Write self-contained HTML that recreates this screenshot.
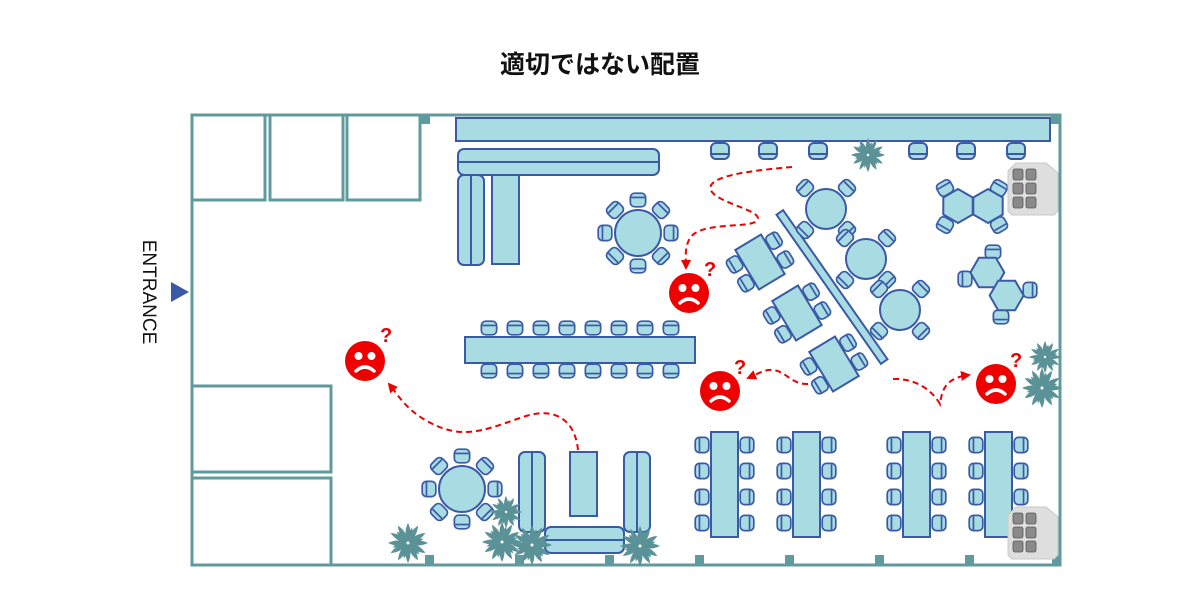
<!DOCTYPE html>
<html><head><meta charset="utf-8"><style>
html,body{margin:0;padding:0;background:#fff;}
svg{display:block;}
</style></head><body>
<svg width="1200" height="615" viewBox="0 0 1200 615" xmlns="http://www.w3.org/2000/svg">
<defs>
<g id="ch"><rect x="-9" y="-8" width="18" height="16" rx="5" fill="#a9dbe3" stroke="#3a5aa6" stroke-width="2"/><line x1="-8" y1="3" x2="8" y2="3" stroke="#3a5aa6" stroke-width="2"/></g>
<g id="cs"><use href="#ch" transform="scale(0.85)"/></g>
<polygon id="hex" points="0,-17 14.7,-8.5 14.7,8.5 0,17 -14.7,8.5 -14.7,-8.5" fill="#a9dbe3" stroke="#3a5aa6" stroke-width="2"/>
<path id="leaf" d="M0,0 Q5,-10 0,-20 Q-5,-10 0,0 Z" fill="#5a9297"/>
<g id="plant"><use href="#leaf"/><use href="#leaf" transform="rotate(30)"/><use href="#leaf" transform="rotate(60)"/><use href="#leaf" transform="rotate(90)"/><use href="#leaf" transform="rotate(120)"/><use href="#leaf" transform="rotate(150)"/><use href="#leaf" transform="rotate(180)"/><use href="#leaf" transform="rotate(210)"/><use href="#leaf" transform="rotate(240)"/><use href="#leaf" transform="rotate(270)"/><use href="#leaf" transform="rotate(300)"/><use href="#leaf" transform="rotate(330)"/><g transform="rotate(15) scale(0.8)"><use href="#leaf"/><use href="#leaf" transform="rotate(60)"/><use href="#leaf" transform="rotate(120)"/><use href="#leaf" transform="rotate(180)"/><use href="#leaf" transform="rotate(240)"/><use href="#leaf" transform="rotate(300)"/></g><circle r="1.5" fill="#fff"/></g>
<g id="face"><circle r="20" fill="#ee0000"/><circle cx="-6.5" cy="-5" r="4" fill="#fff"/><circle cx="6.5" cy="-5" r="4" fill="#fff"/><path d="M-9,10 Q0,2 9,10" fill="none" stroke="#fff" stroke-width="3.5" stroke-linecap="round"/></g>
<g id="locker"><path d="M0,8 L8,0 L38,0 L50,10 L50,48 L46,52 L4,52 L0,48 Z" fill="#dedede" stroke="#c8c8c8"/><g fill="#8a8a8a" stroke="#555" stroke-width="0.8"><rect x="5" y="6" width="10" height="11" rx="2"/><rect x="18" y="6" width="10" height="11" rx="2"/><rect x="5" y="20" width="10" height="11" rx="2"/><rect x="18" y="20" width="10" height="11" rx="2"/><rect x="5" y="34" width="10" height="11" rx="2"/><rect x="18" y="34" width="10" height="11" rx="2"/></g></g>
<marker id="ar" viewBox="0 0 10 10" refX="8" refY="5" markerWidth="5" markerHeight="5" orient="auto"><path d="M0,0 L10,5 L0,10 Z" fill="#ee0000"/></marker>
</defs>

<text x="600" y="73" text-anchor="middle" font-family="'Liberation Sans','Noto Sans CJK JP',sans-serif" font-size="25" font-weight="bold" fill="#111">適切ではない配置</text>

<g fill="none" stroke="#5f9a9e" stroke-width="3">
<polyline points="192,115 1060,115 1060,565 192,565 192,115"/>
<rect x="192" y="115" width="73" height="85"/>
<rect x="270" y="115" width="73" height="85"/>
<rect x="347" y="115" width="73" height="85"/>
<rect x="192" y="386" width="139" height="86"/>
<rect x="192" y="478" width="139" height="87"/>
</g>
<g fill="#5f9a9e">
<rect x="421" y="115" width="9" height="9"/><rect x="1051" y="115" width="9" height="9"/>
<rect x="425" y="555" width="9" height="9"/><rect x="515" y="555" width="9" height="9"/><rect x="605" y="555" width="9" height="9"/><rect x="695" y="555" width="9" height="9"/><rect x="785" y="555" width="9" height="9"/><rect x="875" y="555" width="9" height="9"/><rect x="965" y="555" width="9" height="9"/><rect x="1052" y="555" width="9" height="9"/>
</g>

<polygon points="171,282 171,302 189,292" fill="#3a5aa6"/>
<text transform="translate(143,292) rotate(90)" text-anchor="middle" font-family="'Liberation Sans',sans-serif" font-size="19" fill="#111">ENTRANCE</text>

<g fill="#a9dbe3" stroke="#3a5aa6" stroke-width="2">
<rect x="456" y="118" width="594" height="23"/>
<rect x="458" y="149" width="201" height="26" rx="6"/><line x1="458" y1="162" x2="659" y2="162"/>
<rect x="458" y="175" width="26" height="90" rx="6"/><line x1="471" y1="176" x2="471" y2="264"/>
<rect x="492" y="175" width="27" height="89"/>
<circle cx="638" cy="233" r="23"/>
<rect x="465" y="337" width="230" height="26"/>
<circle cx="462" cy="489" r="23"/>
<rect x="519" y="452" width="26" height="80" rx="6"/><line x1="532" y1="453" x2="532" y2="531"/>
<rect x="624" y="452" width="26" height="80" rx="6"/><line x1="637" y1="453" x2="637" y2="531"/>
<rect x="545" y="527" width="79" height="26" rx="6"/><line x1="546" y1="540" x2="623" y2="540"/>
<rect x="570" y="452" width="27" height="64"/>
<rect x="711" y="432" width="27" height="105"/>
<rect x="793" y="432" width="27" height="105"/>
<rect x="903" y="432" width="27" height="105"/>
<rect x="985" y="432" width="27" height="105"/>
<circle cx="826" cy="209" r="20"/>
<circle cx="866" cy="259" r="20"/>
<circle cx="900" cy="310" r="20"/>
<rect x="-91" y="-4" width="182" height="8" transform="translate(832,287) rotate(55)"/>
</g>

<use href="#ch" x="720" y="151"/><use href="#ch" x="768" y="151"/><use href="#ch" x="818" y="151"/><use href="#ch" x="918" y="151"/><use href="#ch" x="966" y="151"/><use href="#ch" x="1016" y="151"/>
<g transform="translate(868,155) scale(0.85)"><use href="#plant"/></g>

<use href="#cs" transform="translate(671,233) rotate(-90)"/><use href="#cs" transform="translate(661,256) rotate(-45)"/><use href="#cs" transform="translate(638,266)"/><use href="#cs" transform="translate(615,256) rotate(45)"/><use href="#cs" transform="translate(605,233) rotate(90)"/><use href="#cs" transform="translate(615,210) rotate(135)"/><use href="#cs" transform="translate(638,200) rotate(180)"/><use href="#cs" transform="translate(661,210) rotate(225)"/>
<use href="#cs" transform="translate(495,489) rotate(-90)"/><use href="#cs" transform="translate(485,512) rotate(-45)"/><use href="#cs" transform="translate(462,522)"/><use href="#cs" transform="translate(439,512) rotate(45)"/><use href="#cs" transform="translate(429,489) rotate(90)"/><use href="#cs" transform="translate(439,466) rotate(135)"/><use href="#cs" transform="translate(462,456) rotate(180)"/><use href="#cs" transform="translate(485,466) rotate(225)"/>

<g>
<use href="#cs" transform="translate(489,328) rotate(180)"/><use href="#cs" transform="translate(515,328) rotate(180)"/><use href="#cs" transform="translate(541,328) rotate(180)"/><use href="#cs" transform="translate(567,328) rotate(180)"/><use href="#cs" transform="translate(593,328) rotate(180)"/><use href="#cs" transform="translate(619,328) rotate(180)"/><use href="#cs" transform="translate(645,328) rotate(180)"/><use href="#cs" transform="translate(671,328) rotate(180)"/>
<use href="#cs" x="489" y="371"/><use href="#cs" x="515" y="371"/><use href="#cs" x="541" y="371"/><use href="#cs" x="567" y="371"/><use href="#cs" x="593" y="371"/><use href="#cs" x="619" y="371"/><use href="#cs" x="645" y="371"/><use href="#cs" x="671" y="371"/>
</g>

<g>
<use href="#cs" transform="translate(847,230) rotate(-45)"/><use href="#cs" transform="translate(805,230) rotate(45)"/><use href="#cs" transform="translate(805,188) rotate(135)"/><use href="#cs" transform="translate(847,188) rotate(225)"/>
<use href="#cs" transform="translate(887,280) rotate(-45)"/><use href="#cs" transform="translate(845,280) rotate(45)"/><use href="#cs" transform="translate(845,238) rotate(135)"/><use href="#cs" transform="translate(887,238) rotate(225)"/>
<use href="#cs" transform="translate(921,331) rotate(-45)"/><use href="#cs" transform="translate(879,331) rotate(45)"/><use href="#cs" transform="translate(879,289) rotate(135)"/><use href="#cs" transform="translate(921,289) rotate(225)"/>
</g>

<g transform="translate(760,262) rotate(59)"><rect x="-23" y="-15" width="46" height="30" fill="#a9dbe3" stroke="#3a5aa6" stroke-width="2"/><use href="#cs" transform="translate(-11,-23) rotate(180)"/><use href="#cs" transform="translate(11,-23) rotate(180)"/><use href="#cs" transform="translate(-11,23)"/><use href="#cs" transform="translate(11,23)"/></g>
<g transform="translate(797,313) rotate(59)"><rect x="-23" y="-15" width="46" height="30" fill="#a9dbe3" stroke="#3a5aa6" stroke-width="2"/><use href="#cs" transform="translate(-11,-23) rotate(180)"/><use href="#cs" transform="translate(11,-23) rotate(180)"/><use href="#cs" transform="translate(-11,23)"/><use href="#cs" transform="translate(11,23)"/></g>
<g transform="translate(834,364) rotate(59)"><rect x="-23" y="-15" width="46" height="30" fill="#a9dbe3" stroke="#3a5aa6" stroke-width="2"/><use href="#cs" transform="translate(-11,-23) rotate(180)"/><use href="#cs" transform="translate(11,-23) rotate(180)"/><use href="#cs" transform="translate(-11,23)"/><use href="#cs" transform="translate(11,23)"/></g>

<use href="#cs" transform="translate(945,188) rotate(150)"/><use href="#cs" transform="translate(999,188) rotate(210)"/><use href="#cs" transform="translate(945,225) rotate(30)"/><use href="#cs" transform="translate(999,225) rotate(-30)"/>
<use href="#hex" x="958" y="206"/><use href="#hex" x="988" y="206"/>
<use href="#cs" transform="translate(993,252) rotate(180)"/><use href="#cs" transform="translate(965,279) rotate(90)"/><use href="#cs" transform="translate(1030,290) rotate(-90)"/><use href="#cs" transform="translate(1001,317)"/>
<g transform="translate(997,284) rotate(50)"><use href="#hex" x="-15" y="0" transform="rotate(-20,-15,0)"/><use href="#hex" x="15" y="0" transform="rotate(-20,15,0)"/></g>

<g>
<use href="#cs" transform="translate(702,445) rotate(90)"/><use href="#cs" transform="translate(702,471) rotate(90)"/><use href="#cs" transform="translate(702,497) rotate(90)"/><use href="#cs" transform="translate(702,523) rotate(90)"/>
<use href="#cs" transform="translate(747,445) rotate(-90)"/><use href="#cs" transform="translate(747,471) rotate(-90)"/><use href="#cs" transform="translate(747,497) rotate(-90)"/><use href="#cs" transform="translate(747,523) rotate(-90)"/>
<use href="#cs" transform="translate(784,445) rotate(90)"/><use href="#cs" transform="translate(784,471) rotate(90)"/><use href="#cs" transform="translate(784,497) rotate(90)"/><use href="#cs" transform="translate(784,523) rotate(90)"/>
<use href="#cs" transform="translate(829,445) rotate(-90)"/><use href="#cs" transform="translate(829,471) rotate(-90)"/><use href="#cs" transform="translate(829,497) rotate(-90)"/><use href="#cs" transform="translate(829,523) rotate(-90)"/>
<use href="#cs" transform="translate(894,445) rotate(90)"/><use href="#cs" transform="translate(894,471) rotate(90)"/><use href="#cs" transform="translate(894,497) rotate(90)"/><use href="#cs" transform="translate(894,523) rotate(90)"/>
<use href="#cs" transform="translate(939,445) rotate(-90)"/><use href="#cs" transform="translate(939,471) rotate(-90)"/><use href="#cs" transform="translate(939,497) rotate(-90)"/><use href="#cs" transform="translate(939,523) rotate(-90)"/>
<use href="#cs" transform="translate(976,445) rotate(90)"/><use href="#cs" transform="translate(976,471) rotate(90)"/><use href="#cs" transform="translate(976,497) rotate(90)"/><use href="#cs" transform="translate(976,523) rotate(90)"/>
<use href="#cs" transform="translate(1021,445) rotate(-90)"/><use href="#cs" transform="translate(1021,471) rotate(-90)"/><use href="#cs" transform="translate(1021,497) rotate(-90)"/>
</g>

<use href="#locker" x="1008" y="163"/>
<use href="#locker" x="1008" y="507"/>

<use href="#plant" x="408" y="543"/><use href="#plant" x="502" y="542"/><use href="#plant" x="532" y="545"/>
<g transform="translate(506,512) scale(0.8)"><use href="#plant"/></g>
<use href="#plant" x="640" y="546"/>
<g transform="translate(1045,357) scale(0.8)"><use href="#plant"/></g>
<use href="#plant" x="1042" y="388"/>

<g fill="none" stroke="#ee0000" stroke-width="2" stroke-dasharray="6,4" marker-end="url(#ar)">
<path d="M792,167 C760,170 700,175 712,192 C722,205 770,212 755,222 C745,228 700,222 690,238 C684,248 686,260 686,268"/>
<path d="M578,450 C575,420 555,405 520,418 C480,432 460,440 425,420 C405,408 398,395 389,384"/>
<path d="M808,384 C790,385 785,368 768,370 C760,372 755,375 748,378"/>
<path d="M893,379 C915,378 932,390 940,404 C942,390 945,378 969,375"/>
</g>

<use href="#face" x="689" y="293"/>
<use href="#face" x="365" y="361"/>
<use href="#face" x="720" y="391"/>
<use href="#face" x="996" y="384"/>
<g font-family="'Liberation Sans',sans-serif" font-size="20" font-weight="bold" fill="#ee0000">
<text x="704" y="276">?</text><text x="380" y="342">?</text><text x="734" y="374">?</text><text x="1010" y="367">?</text>
</g>
</svg>
</body></html>
